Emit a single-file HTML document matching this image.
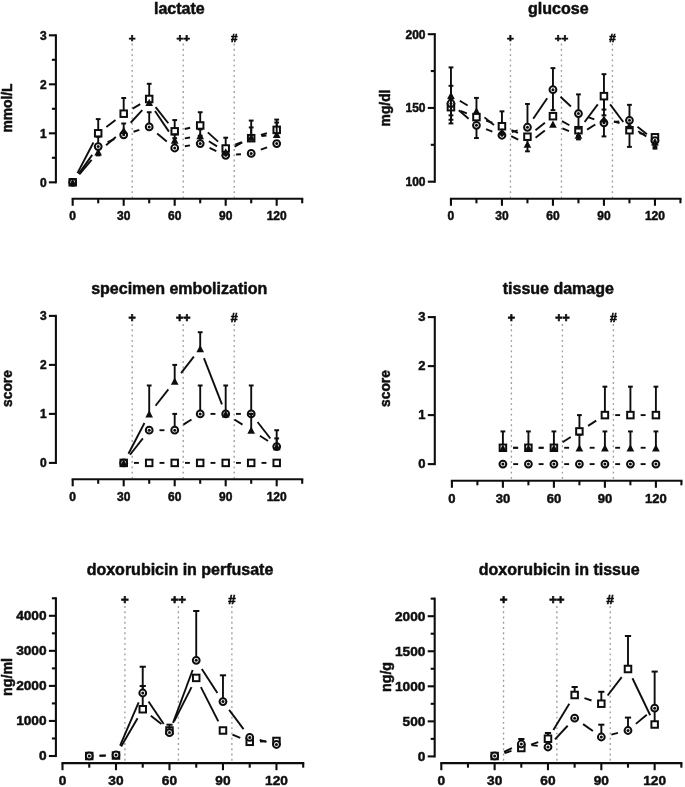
<!DOCTYPE html>
<html><head><meta charset="utf-8"><title>figure</title>
<style>html,body{margin:0;padding:0;background:#fff;}body{width:685px;height:787px;overflow:hidden;font-family:"Liberation Sans",sans-serif;}</style>
</head><body>
<svg width="685" height="787" viewBox="0 0 685 787" style="display:block">
<rect width="685" height="787" fill="#fff"/>
<defs><filter id="soft" x="-2%" y="-2%" width="104%" height="104%"><feGaussianBlur stdDeviation="0.38"/></filter></defs>
<g fill="#111" filter="url(#soft)">
<text x="179.3" y="13.6" font-size="16" text-anchor="middle" font-family="Liberation Sans, sans-serif" font-weight="bold" stroke="#111" stroke-width="0.5" stroke-linejoin="round">lactate</text>
<text transform="translate(12.2 108) rotate(-90)" font-size="13.8" text-anchor="middle" font-family="Liberation Sans, sans-serif" font-weight="bold" stroke="#111" stroke-width="0.5" stroke-linejoin="round">mmol/L</text>
<line x1="132.2" y1="43.6" x2="132.2" y2="197.7" stroke="#9c9c9c" stroke-width="1.35" stroke-dasharray="1.9 3.37"/>
<text x="132.2" y="41.9" font-size="11.6" text-anchor="middle" font-family="Liberation Sans, sans-serif" font-weight="bold" stroke="#111" stroke-width="0.7">+</text>
<line x1="183.2" y1="43.6" x2="183.2" y2="197.7" stroke="#9c9c9c" stroke-width="1.35" stroke-dasharray="1.9 3.37"/>
<text x="183.2" y="41.9" font-size="11.6" text-anchor="middle" font-family="Liberation Sans, sans-serif" font-weight="bold" stroke="#111" stroke-width="0.7">++</text>
<line x1="234.2" y1="43.6" x2="234.2" y2="197.7" stroke="#9c9c9c" stroke-width="1.35" stroke-dasharray="1.9 3.37"/>
<text x="234.2" y="41.9" font-size="11.6" text-anchor="middle" font-family="Liberation Sans, sans-serif" font-weight="bold" stroke="#111" stroke-width="0.7">#</text>
<line x1="55.9" y1="34.25" x2="55.9" y2="183.35" stroke="#111" stroke-width="2.1"/>
<line x1="48.9" y1="182.3" x2="55.9" y2="182.3" stroke="#111" stroke-width="2.1"/>
<text x="46.6" y="186.6" font-size="12" text-anchor="end" font-family="Liberation Sans, sans-serif" font-weight="bold" stroke="#111" stroke-width="0.5" stroke-linejoin="round">0</text>
<line x1="48.9" y1="133.3" x2="55.9" y2="133.3" stroke="#111" stroke-width="2.1"/>
<text x="46.6" y="137.6" font-size="12" text-anchor="end" font-family="Liberation Sans, sans-serif" font-weight="bold" stroke="#111" stroke-width="0.5" stroke-linejoin="round">1</text>
<line x1="48.9" y1="84.3" x2="55.9" y2="84.3" stroke="#111" stroke-width="2.1"/>
<text x="46.6" y="88.6" font-size="12" text-anchor="end" font-family="Liberation Sans, sans-serif" font-weight="bold" stroke="#111" stroke-width="0.5" stroke-linejoin="round">2</text>
<line x1="48.9" y1="35.3" x2="55.9" y2="35.3" stroke="#111" stroke-width="2.1"/>
<text x="46.6" y="39.6" font-size="12" text-anchor="end" font-family="Liberation Sans, sans-serif" font-weight="bold" stroke="#111" stroke-width="0.5" stroke-linejoin="round">3</text>
<line x1="51.9" y1="157.8" x2="55.9" y2="157.8" stroke="#111" stroke-width="2.1"/>
<line x1="51.9" y1="108.8" x2="55.9" y2="108.8" stroke="#111" stroke-width="2.1"/>
<line x1="51.9" y1="59.8" x2="55.9" y2="59.8" stroke="#111" stroke-width="2.1"/>
<line x1="71.65" y1="198.7" x2="303.25" y2="198.7" stroke="#111" stroke-width="2.1"/>
<line x1="72.7" y1="198.7" x2="72.7" y2="205.8" stroke="#111" stroke-width="2.1"/>
<text x="72.7" y="220.1" font-size="12" text-anchor="middle" font-family="Liberation Sans, sans-serif" font-weight="bold" stroke="#111" stroke-width="0.5" stroke-linejoin="round">0</text>
<line x1="123.7" y1="198.7" x2="123.7" y2="205.8" stroke="#111" stroke-width="2.1"/>
<text x="123.7" y="220.1" font-size="12" text-anchor="middle" font-family="Liberation Sans, sans-serif" font-weight="bold" stroke="#111" stroke-width="0.5" stroke-linejoin="round">30</text>
<line x1="174.7" y1="198.7" x2="174.7" y2="205.8" stroke="#111" stroke-width="2.1"/>
<text x="174.7" y="220.1" font-size="12" text-anchor="middle" font-family="Liberation Sans, sans-serif" font-weight="bold" stroke="#111" stroke-width="0.5" stroke-linejoin="round">60</text>
<line x1="225.7" y1="198.7" x2="225.7" y2="205.8" stroke="#111" stroke-width="2.1"/>
<text x="225.7" y="220.1" font-size="12" text-anchor="middle" font-family="Liberation Sans, sans-serif" font-weight="bold" stroke="#111" stroke-width="0.5" stroke-linejoin="round">90</text>
<line x1="276.7" y1="198.7" x2="276.7" y2="205.8" stroke="#111" stroke-width="2.1"/>
<text x="276.7" y="220.1" font-size="12" text-anchor="middle" font-family="Liberation Sans, sans-serif" font-weight="bold" stroke="#111" stroke-width="0.5" stroke-linejoin="round">120</text>
<line x1="98.2" y1="198.7" x2="98.2" y2="203.3" stroke="#111" stroke-width="2.1"/>
<line x1="149.2" y1="198.7" x2="149.2" y2="203.3" stroke="#111" stroke-width="2.1"/>
<line x1="200.2" y1="198.7" x2="200.2" y2="203.3" stroke="#111" stroke-width="2.1"/>
<line x1="251.2" y1="198.7" x2="251.2" y2="203.3" stroke="#111" stroke-width="2.1"/>
<line x1="302.2" y1="198.7" x2="302.2" y2="203.3" stroke="#111" stroke-width="2.1"/>
<line x1="98.2" y1="133.3" x2="98.2" y2="119.09" stroke="#111" stroke-width="1.9"/>
<line x1="95.8" y1="119.09" x2="100.6" y2="119.09" stroke="#111" stroke-width="2.0"/>
<line x1="123.7" y1="113.7" x2="123.7" y2="98.02" stroke="#111" stroke-width="1.9"/>
<line x1="121.3" y1="98.02" x2="126.1" y2="98.02" stroke="#111" stroke-width="2.0"/>
<line x1="149.2" y1="99" x2="149.2" y2="83.81" stroke="#111" stroke-width="1.9"/>
<line x1="146.8" y1="83.81" x2="151.6" y2="83.81" stroke="#111" stroke-width="2.0"/>
<line x1="174.7" y1="131.34" x2="174.7" y2="120.07" stroke="#111" stroke-width="1.9"/>
<line x1="172.3" y1="120.07" x2="177.1" y2="120.07" stroke="#111" stroke-width="2.0"/>
<line x1="200.2" y1="125.46" x2="200.2" y2="112.23" stroke="#111" stroke-width="1.9"/>
<line x1="197.8" y1="112.23" x2="202.6" y2="112.23" stroke="#111" stroke-width="2.0"/>
<line x1="225.7" y1="148.49" x2="225.7" y2="137.71" stroke="#111" stroke-width="1.9"/>
<line x1="223.3" y1="137.71" x2="228.1" y2="137.71" stroke="#111" stroke-width="2.0"/>
<line x1="251.2" y1="138.2" x2="251.2" y2="120.56" stroke="#111" stroke-width="1.9"/>
<line x1="248.8" y1="120.56" x2="253.6" y2="120.56" stroke="#111" stroke-width="2.0"/>
<line x1="276.7" y1="129.87" x2="276.7" y2="119.58" stroke="#111" stroke-width="1.9"/>
<line x1="274.3" y1="119.58" x2="279.1" y2="119.58" stroke="#111" stroke-width="2.0"/>
<line x1="77.45" y1="173.16" x2="93.45" y2="142.44" stroke="#111" stroke-width="1.9"/>
<line x1="106.37" y1="127.02" x2="115.53" y2="119.98" stroke="#111" stroke-width="1.9"/>
<line x1="132.62" y1="108.56" x2="140.28" y2="104.14" stroke="#111" stroke-width="1.9"/>
<line x1="155.58" y1="107.09" x2="168.32" y2="123.25" stroke="#111" stroke-width="1.9"/>
<line x1="184.74" y1="129.03" x2="190.16" y2="127.77" stroke="#111" stroke-width="1.9"/>
<line x1="207.84" y1="132.36" x2="218.06" y2="141.59" stroke="#111" stroke-width="1.9"/>
<line x1="235.25" y1="144.64" x2="241.65" y2="142.05" stroke="#111" stroke-width="1.9"/>
<line x1="260.99" y1="135" x2="266.91" y2="133.07" stroke="#111" stroke-width="1.9"/>
<rect x="69.45" y="179.05" width="6.5" height="6.5" fill="#fff" stroke="#111" stroke-width="2.0"/>
<rect x="94.95" y="130.05" width="6.5" height="6.5" fill="#fff" stroke="#111" stroke-width="2.0"/>
<rect x="120.45" y="110.45" width="6.5" height="6.5" fill="#fff" stroke="#111" stroke-width="2.0"/>
<rect x="145.95" y="95.75" width="6.5" height="6.5" fill="#fff" stroke="#111" stroke-width="2.0"/>
<rect x="171.45" y="128.09" width="6.5" height="6.5" fill="#fff" stroke="#111" stroke-width="2.0"/>
<rect x="196.95" y="122.21" width="6.5" height="6.5" fill="#fff" stroke="#111" stroke-width="2.0"/>
<rect x="222.45" y="145.24" width="6.5" height="6.5" fill="#fff" stroke="#111" stroke-width="2.0"/>
<rect x="247.95" y="134.95" width="6.5" height="6.5" fill="#fff" stroke="#111" stroke-width="2.0"/>
<rect x="273.45" y="126.62" width="6.5" height="6.5" fill="#fff" stroke="#111" stroke-width="2.0"/>
<line x1="98.2" y1="146.53" x2="98.2" y2="136.73" stroke="#111" stroke-width="1.9"/>
<line x1="95.8" y1="136.73" x2="100.6" y2="136.73" stroke="#111" stroke-width="2.0"/>
<line x1="123.7" y1="134.77" x2="123.7" y2="123.5" stroke="#111" stroke-width="1.9"/>
<line x1="121.3" y1="123.5" x2="126.1" y2="123.5" stroke="#111" stroke-width="2.0"/>
<line x1="149.2" y1="126.93" x2="149.2" y2="112.23" stroke="#111" stroke-width="1.9"/>
<line x1="146.8" y1="112.23" x2="151.6" y2="112.23" stroke="#111" stroke-width="2.0"/>
<line x1="174.7" y1="148" x2="174.7" y2="138.2" stroke="#111" stroke-width="1.9"/>
<line x1="172.3" y1="138.2" x2="177.1" y2="138.2" stroke="#111" stroke-width="2.0"/>
<line x1="200.2" y1="143.59" x2="200.2" y2="135.75" stroke="#111" stroke-width="1.9"/>
<line x1="197.8" y1="135.75" x2="202.6" y2="135.75" stroke="#111" stroke-width="2.0"/>
<line x1="78.68" y1="173.91" x2="92.22" y2="154.92" stroke="#111" stroke-width="1.9"/>
<line x1="107.55" y1="142.22" x2="114.35" y2="139.08" stroke="#111" stroke-width="1.9"/>
<line x1="133.55" y1="131.74" x2="139.35" y2="129.96" stroke="#111" stroke-width="1.9"/>
<line x1="157.14" y1="133.49" x2="166.76" y2="141.44" stroke="#111" stroke-width="1.9"/>
<line x1="184.85" y1="146.24" x2="190.05" y2="145.35" stroke="#111" stroke-width="1.9"/>
<line x1="209.55" y1="147.9" x2="216.35" y2="151.04" stroke="#111" stroke-width="1.9"/>
<line x1="235.97" y1="154.56" x2="240.93" y2="154.18" stroke="#111" stroke-width="1.9"/>
<line x1="260.81" y1="149.7" x2="267.09" y2="147.28" stroke="#111" stroke-width="1.9"/>
<circle cx="72.7" cy="182.3" r="3.4" fill="#fff" stroke="#111" stroke-width="2.0"/>
<circle cx="72.7" cy="182.3" r="1.5" fill="#111"/>
<circle cx="98.2" cy="146.53" r="3.4" fill="#fff" stroke="#111" stroke-width="2.0"/>
<circle cx="98.2" cy="146.53" r="1.5" fill="#111"/>
<circle cx="123.7" cy="134.77" r="3.4" fill="#fff" stroke="#111" stroke-width="2.0"/>
<circle cx="123.7" cy="134.77" r="1.5" fill="#111"/>
<circle cx="149.2" cy="126.93" r="3.4" fill="#fff" stroke="#111" stroke-width="2.0"/>
<circle cx="149.2" cy="126.93" r="1.5" fill="#111"/>
<circle cx="174.7" cy="148" r="3.4" fill="#fff" stroke="#111" stroke-width="2.0"/>
<circle cx="174.7" cy="148" r="1.5" fill="#111"/>
<circle cx="200.2" cy="143.59" r="3.4" fill="#fff" stroke="#111" stroke-width="2.0"/>
<circle cx="200.2" cy="143.59" r="1.5" fill="#111"/>
<circle cx="225.7" cy="155.35" r="3.4" fill="#fff" stroke="#111" stroke-width="2.0"/>
<circle cx="225.7" cy="155.35" r="1.5" fill="#111"/>
<circle cx="251.2" cy="153.39" r="3.4" fill="#fff" stroke="#111" stroke-width="2.0"/>
<circle cx="251.2" cy="153.39" r="1.5" fill="#111"/>
<circle cx="276.7" cy="143.59" r="3.4" fill="#fff" stroke="#111" stroke-width="2.0"/>
<circle cx="276.7" cy="143.59" r="1.5" fill="#111"/>
<line x1="98.2" y1="151.92" x2="98.2" y2="155.35" stroke="#111" stroke-width="1.9"/>
<line x1="95.8" y1="155.35" x2="100.6" y2="155.35" stroke="#111" stroke-width="2.0"/>
<line x1="174.7" y1="140.16" x2="174.7" y2="134.28" stroke="#111" stroke-width="1.9"/>
<line x1="172.3" y1="134.28" x2="177.1" y2="134.28" stroke="#111" stroke-width="2.0"/>
<line x1="200.2" y1="135.75" x2="200.2" y2="129.38" stroke="#111" stroke-width="1.9"/>
<line x1="197.8" y1="129.38" x2="202.6" y2="129.38" stroke="#111" stroke-width="2.0"/>
<line x1="251.2" y1="137.22" x2="251.2" y2="127.42" stroke="#111" stroke-width="1.9"/>
<line x1="248.8" y1="127.42" x2="253.6" y2="127.42" stroke="#111" stroke-width="2.0"/>
<line x1="276.7" y1="134.28" x2="276.7" y2="122.52" stroke="#111" stroke-width="1.9"/>
<line x1="274.3" y1="122.52" x2="279.1" y2="122.52" stroke="#111" stroke-width="2.0"/>
<line x1="79.32" y1="174.41" x2="91.58" y2="159.81" stroke="#111" stroke-width="1.9"/>
<line x1="106.07" y1="145.27" x2="115.83" y2="137.01" stroke="#111" stroke-width="1.9"/>
<line x1="130.64" y1="122.75" x2="142.26" y2="110.04" stroke="#111" stroke-width="1.9"/>
<line x1="154.97" y1="110.96" x2="168.93" y2="131.63" stroke="#111" stroke-width="1.9"/>
<line x1="184.85" y1="138.4" x2="190.05" y2="137.51" stroke="#111" stroke-width="1.9"/>
<line x1="208.9" y1="141.27" x2="217" y2="146.4" stroke="#111" stroke-width="1.9"/>
<line x1="234.62" y1="146.78" x2="242.28" y2="142.36" stroke="#111" stroke-width="1.9"/>
<line x1="261.43" y1="136.04" x2="266.47" y2="135.46" stroke="#111" stroke-width="1.9"/>
<path d="M72.7 178.7L76.55 185.9L68.85 185.9Z" fill="#111"/>
<path d="M98.2 148.32L102.05 155.52L94.35 155.52Z" fill="#111"/>
<path d="M123.7 126.76L127.55 133.96L119.85 133.96Z" fill="#111"/>
<path d="M149.2 98.83L153.05 106.03L145.35 106.03Z" fill="#111"/>
<path d="M174.7 136.56L178.55 143.76L170.85 143.76Z" fill="#111"/>
<path d="M200.2 132.15L204.05 139.35L196.35 139.35Z" fill="#111"/>
<path d="M225.7 148.32L229.55 155.52L221.85 155.52Z" fill="#111"/>
<path d="M251.2 133.62L255.05 140.82L247.35 140.82Z" fill="#111"/>
<path d="M276.7 130.68L280.55 137.88L272.85 137.88Z" fill="#111"/>
<text x="558.3" y="13.6" font-size="16" text-anchor="middle" font-family="Liberation Sans, sans-serif" font-weight="bold" stroke="#111" stroke-width="0.5" stroke-linejoin="round">glucose</text>
<text transform="translate(390.4 108) rotate(-90)" font-size="13.8" text-anchor="middle" font-family="Liberation Sans, sans-serif" font-weight="bold" stroke="#111" stroke-width="0.5" stroke-linejoin="round">mg/dl</text>
<line x1="510.45" y1="43.6" x2="510.45" y2="197.7" stroke="#9c9c9c" stroke-width="1.35" stroke-dasharray="1.9 3.37"/>
<text x="510.45" y="41.9" font-size="11.6" text-anchor="middle" font-family="Liberation Sans, sans-serif" font-weight="bold" stroke="#111" stroke-width="0.7">+</text>
<line x1="561.45" y1="43.6" x2="561.45" y2="197.7" stroke="#9c9c9c" stroke-width="1.35" stroke-dasharray="1.9 3.37"/>
<text x="561.45" y="41.9" font-size="11.6" text-anchor="middle" font-family="Liberation Sans, sans-serif" font-weight="bold" stroke="#111" stroke-width="0.7">++</text>
<line x1="612.45" y1="43.6" x2="612.45" y2="197.7" stroke="#9c9c9c" stroke-width="1.35" stroke-dasharray="1.9 3.37"/>
<text x="612.45" y="41.9" font-size="11.6" text-anchor="middle" font-family="Liberation Sans, sans-serif" font-weight="bold" stroke="#111" stroke-width="0.7">#</text>
<line x1="434.8" y1="33.15" x2="434.8" y2="182.75" stroke="#111" stroke-width="2.1"/>
<line x1="427.8" y1="181.7" x2="434.8" y2="181.7" stroke="#111" stroke-width="2.1"/>
<text x="425.5" y="186" font-size="12" text-anchor="end" font-family="Liberation Sans, sans-serif" font-weight="bold" stroke="#111" stroke-width="0.5" stroke-linejoin="round">100</text>
<line x1="427.8" y1="107.95" x2="434.8" y2="107.95" stroke="#111" stroke-width="2.1"/>
<text x="425.5" y="112.25" font-size="12" text-anchor="end" font-family="Liberation Sans, sans-serif" font-weight="bold" stroke="#111" stroke-width="0.5" stroke-linejoin="round">150</text>
<line x1="427.8" y1="34.2" x2="434.8" y2="34.2" stroke="#111" stroke-width="2.1"/>
<text x="425.5" y="38.5" font-size="12" text-anchor="end" font-family="Liberation Sans, sans-serif" font-weight="bold" stroke="#111" stroke-width="0.5" stroke-linejoin="round">200</text>
<line x1="430.8" y1="144.82" x2="434.8" y2="144.82" stroke="#111" stroke-width="2.1"/>
<line x1="430.8" y1="71.07" x2="434.8" y2="71.07" stroke="#111" stroke-width="2.1"/>
<line x1="449.9" y1="198.7" x2="681.5" y2="198.7" stroke="#111" stroke-width="2.1"/>
<line x1="450.95" y1="198.7" x2="450.95" y2="205.8" stroke="#111" stroke-width="2.1"/>
<text x="450.95" y="219.9" font-size="12" text-anchor="middle" font-family="Liberation Sans, sans-serif" font-weight="bold" stroke="#111" stroke-width="0.5" stroke-linejoin="round">0</text>
<line x1="501.95" y1="198.7" x2="501.95" y2="205.8" stroke="#111" stroke-width="2.1"/>
<text x="501.95" y="219.9" font-size="12" text-anchor="middle" font-family="Liberation Sans, sans-serif" font-weight="bold" stroke="#111" stroke-width="0.5" stroke-linejoin="round">30</text>
<line x1="552.95" y1="198.7" x2="552.95" y2="205.8" stroke="#111" stroke-width="2.1"/>
<text x="552.95" y="219.9" font-size="12" text-anchor="middle" font-family="Liberation Sans, sans-serif" font-weight="bold" stroke="#111" stroke-width="0.5" stroke-linejoin="round">60</text>
<line x1="603.95" y1="198.7" x2="603.95" y2="205.8" stroke="#111" stroke-width="2.1"/>
<text x="603.95" y="219.9" font-size="12" text-anchor="middle" font-family="Liberation Sans, sans-serif" font-weight="bold" stroke="#111" stroke-width="0.5" stroke-linejoin="round">90</text>
<line x1="654.95" y1="198.7" x2="654.95" y2="205.8" stroke="#111" stroke-width="2.1"/>
<text x="654.95" y="219.9" font-size="12" text-anchor="middle" font-family="Liberation Sans, sans-serif" font-weight="bold" stroke="#111" stroke-width="0.5" stroke-linejoin="round">120</text>
<line x1="476.45" y1="198.7" x2="476.45" y2="203.3" stroke="#111" stroke-width="2.1"/>
<line x1="527.45" y1="198.7" x2="527.45" y2="203.3" stroke="#111" stroke-width="2.1"/>
<line x1="578.45" y1="198.7" x2="578.45" y2="203.3" stroke="#111" stroke-width="2.1"/>
<line x1="629.45" y1="198.7" x2="629.45" y2="203.3" stroke="#111" stroke-width="2.1"/>
<line x1="680.45" y1="198.7" x2="680.45" y2="203.3" stroke="#111" stroke-width="2.1"/>
<line x1="450.95" y1="107.21" x2="450.95" y2="115.32" stroke="#111" stroke-width="1.9"/>
<line x1="448.55" y1="115.32" x2="453.35" y2="115.32" stroke="#111" stroke-width="2.0"/>
<line x1="450.95" y1="107.21" x2="450.95" y2="99.1" stroke="#111" stroke-width="1.9"/>
<line x1="448.55" y1="99.1" x2="453.35" y2="99.1" stroke="#111" stroke-width="2.0"/>
<line x1="476.45" y1="117.09" x2="476.45" y2="97.92" stroke="#111" stroke-width="1.9"/>
<line x1="474.05" y1="97.92" x2="478.85" y2="97.92" stroke="#111" stroke-width="2.0"/>
<line x1="501.95" y1="126.24" x2="501.95" y2="111.34" stroke="#111" stroke-width="1.9"/>
<line x1="499.55" y1="111.34" x2="504.35" y2="111.34" stroke="#111" stroke-width="2.0"/>
<line x1="527.45" y1="136.71" x2="527.45" y2="145.71" stroke="#111" stroke-width="1.9"/>
<line x1="525.05" y1="145.71" x2="529.85" y2="145.71" stroke="#111" stroke-width="2.0"/>
<line x1="578.45" y1="130.22" x2="578.45" y2="135.97" stroke="#111" stroke-width="1.9"/>
<line x1="576.05" y1="135.97" x2="580.85" y2="135.97" stroke="#111" stroke-width="2.0"/>
<line x1="603.95" y1="96.15" x2="603.95" y2="74.17" stroke="#111" stroke-width="1.9"/>
<line x1="601.55" y1="74.17" x2="606.35" y2="74.17" stroke="#111" stroke-width="2.0"/>
<line x1="603.95" y1="96.15" x2="603.95" y2="109.57" stroke="#111" stroke-width="1.9"/>
<line x1="601.55" y1="109.57" x2="606.35" y2="109.57" stroke="#111" stroke-width="2.0"/>
<line x1="603.95" y1="96.15" x2="603.95" y2="115.32" stroke="#111" stroke-width="1.9"/>
<line x1="601.55" y1="115.32" x2="606.35" y2="115.32" stroke="#111" stroke-width="2.0"/>
<line x1="629.45" y1="130.22" x2="629.45" y2="146.89" stroke="#111" stroke-width="1.9"/>
<line x1="627.05" y1="146.89" x2="631.85" y2="146.89" stroke="#111" stroke-width="2.0"/>
<line x1="654.95" y1="137.3" x2="654.95" y2="144.82" stroke="#111" stroke-width="1.9"/>
<line x1="652.55" y1="144.82" x2="657.35" y2="144.82" stroke="#111" stroke-width="2.0"/>
<line x1="460.55" y1="110.93" x2="466.85" y2="113.37" stroke="#111" stroke-width="1.9"/>
<line x1="486.15" y1="120.57" x2="492.25" y2="122.76" stroke="#111" stroke-width="1.9"/>
<line x1="511.48" y1="130.15" x2="517.92" y2="132.8" stroke="#111" stroke-width="1.9"/>
<line x1="535.48" y1="130.26" x2="544.92" y2="122.66" stroke="#111" stroke-width="1.9"/>
<line x1="561.98" y1="121.17" x2="569.42" y2="125.26" stroke="#111" stroke-width="1.9"/>
<line x1="584.62" y1="121.98" x2="597.78" y2="104.4" stroke="#111" stroke-width="1.9"/>
<line x1="610.12" y1="104.4" x2="623.28" y2="121.98" stroke="#111" stroke-width="1.9"/>
<line x1="639.37" y1="132.98" x2="645.03" y2="134.55" stroke="#111" stroke-width="1.9"/>
<rect x="447.7" y="103.96" width="6.5" height="6.5" fill="#fff" stroke="#111" stroke-width="2.0"/>
<rect x="473.2" y="113.84" width="6.5" height="6.5" fill="#fff" stroke="#111" stroke-width="2.0"/>
<rect x="498.7" y="122.99" width="6.5" height="6.5" fill="#fff" stroke="#111" stroke-width="2.0"/>
<rect x="524.2" y="133.46" width="6.5" height="6.5" fill="#fff" stroke="#111" stroke-width="2.0"/>
<rect x="549.7" y="112.96" width="6.5" height="6.5" fill="#fff" stroke="#111" stroke-width="2.0"/>
<rect x="575.2" y="126.97" width="6.5" height="6.5" fill="#fff" stroke="#111" stroke-width="2.0"/>
<rect x="600.7" y="92.9" width="6.5" height="6.5" fill="#fff" stroke="#111" stroke-width="2.0"/>
<rect x="626.2" y="126.97" width="6.5" height="6.5" fill="#fff" stroke="#111" stroke-width="2.0"/>
<rect x="651.7" y="134.05" width="6.5" height="6.5" fill="#fff" stroke="#111" stroke-width="2.0"/>
<line x1="450.95" y1="103.52" x2="450.95" y2="119.75" stroke="#111" stroke-width="1.9"/>
<line x1="448.55" y1="119.75" x2="453.35" y2="119.75" stroke="#111" stroke-width="2.0"/>
<line x1="450.95" y1="103.52" x2="450.95" y2="85.82" stroke="#111" stroke-width="1.9"/>
<line x1="448.55" y1="85.82" x2="453.35" y2="85.82" stroke="#111" stroke-width="2.0"/>
<line x1="476.45" y1="125.36" x2="476.45" y2="138.04" stroke="#111" stroke-width="1.9"/>
<line x1="474.05" y1="138.04" x2="478.85" y2="138.04" stroke="#111" stroke-width="2.0"/>
<line x1="527.45" y1="127.27" x2="527.45" y2="103.97" stroke="#111" stroke-width="1.9"/>
<line x1="525.05" y1="103.97" x2="529.85" y2="103.97" stroke="#111" stroke-width="2.0"/>
<line x1="552.95" y1="89.66" x2="552.95" y2="110.16" stroke="#111" stroke-width="1.9"/>
<line x1="550.55" y1="110.16" x2="555.35" y2="110.16" stroke="#111" stroke-width="2.0"/>
<line x1="552.95" y1="89.66" x2="552.95" y2="68.12" stroke="#111" stroke-width="1.9"/>
<line x1="550.55" y1="68.12" x2="555.35" y2="68.12" stroke="#111" stroke-width="2.0"/>
<line x1="578.45" y1="113.56" x2="578.45" y2="94.38" stroke="#111" stroke-width="1.9"/>
<line x1="576.05" y1="94.38" x2="580.85" y2="94.38" stroke="#111" stroke-width="2.0"/>
<line x1="578.45" y1="113.56" x2="578.45" y2="128.6" stroke="#111" stroke-width="1.9"/>
<line x1="576.05" y1="128.6" x2="580.85" y2="128.6" stroke="#111" stroke-width="2.0"/>
<line x1="603.95" y1="122.85" x2="603.95" y2="136.42" stroke="#111" stroke-width="1.9"/>
<line x1="601.55" y1="136.42" x2="606.35" y2="136.42" stroke="#111" stroke-width="2.0"/>
<line x1="629.45" y1="120.34" x2="629.45" y2="104.85" stroke="#111" stroke-width="1.9"/>
<line x1="627.05" y1="104.85" x2="631.85" y2="104.85" stroke="#111" stroke-width="2.0"/>
<line x1="654.95" y1="140.69" x2="654.95" y2="148.66" stroke="#111" stroke-width="1.9"/>
<line x1="652.55" y1="148.66" x2="657.35" y2="148.66" stroke="#111" stroke-width="2.0"/>
<line x1="458.77" y1="110.22" x2="468.63" y2="118.66" stroke="#111" stroke-width="1.9"/>
<line x1="486.05" y1="129.08" x2="492.35" y2="131.52" stroke="#111" stroke-width="1.9"/>
<line x1="511.78" y1="132.17" x2="517.62" y2="130.34" stroke="#111" stroke-width="1.9"/>
<line x1="533.23" y1="118.75" x2="547.17" y2="98.19" stroke="#111" stroke-width="1.9"/>
<line x1="560.47" y1="96.7" x2="570.93" y2="106.51" stroke="#111" stroke-width="1.9"/>
<line x1="588.13" y1="117.08" x2="594.27" y2="119.32" stroke="#111" stroke-width="1.9"/>
<line x1="614.2" y1="121.84" x2="619.2" y2="121.35" stroke="#111" stroke-width="1.9"/>
<line x1="637.5" y1="126.77" x2="646.9" y2="134.27" stroke="#111" stroke-width="1.9"/>
<circle cx="450.95" cy="103.52" r="3.4" fill="#fff" stroke="#111" stroke-width="2.0"/>
<circle cx="450.95" cy="103.52" r="1.5" fill="#111"/>
<circle cx="476.45" cy="125.36" r="3.4" fill="#fff" stroke="#111" stroke-width="2.0"/>
<circle cx="476.45" cy="125.36" r="1.5" fill="#111"/>
<circle cx="501.95" cy="135.24" r="3.4" fill="#fff" stroke="#111" stroke-width="2.0"/>
<circle cx="501.95" cy="135.24" r="1.5" fill="#111"/>
<circle cx="527.45" cy="127.27" r="3.4" fill="#fff" stroke="#111" stroke-width="2.0"/>
<circle cx="527.45" cy="127.27" r="1.5" fill="#111"/>
<circle cx="552.95" cy="89.66" r="3.4" fill="#fff" stroke="#111" stroke-width="2.0"/>
<circle cx="552.95" cy="89.66" r="1.5" fill="#111"/>
<circle cx="578.45" cy="113.56" r="3.4" fill="#fff" stroke="#111" stroke-width="2.0"/>
<circle cx="578.45" cy="113.56" r="1.5" fill="#111"/>
<circle cx="603.95" cy="122.85" r="3.4" fill="#fff" stroke="#111" stroke-width="2.0"/>
<circle cx="603.95" cy="122.85" r="1.5" fill="#111"/>
<circle cx="629.45" cy="120.34" r="3.4" fill="#fff" stroke="#111" stroke-width="2.0"/>
<circle cx="629.45" cy="120.34" r="1.5" fill="#111"/>
<circle cx="654.95" cy="140.69" r="3.4" fill="#fff" stroke="#111" stroke-width="2.0"/>
<circle cx="654.95" cy="140.69" r="1.5" fill="#111"/>
<line x1="450.95" y1="95.41" x2="450.95" y2="123.44" stroke="#111" stroke-width="1.9"/>
<line x1="448.55" y1="123.44" x2="453.35" y2="123.44" stroke="#111" stroke-width="2.0"/>
<line x1="450.95" y1="95.41" x2="450.95" y2="67.39" stroke="#111" stroke-width="1.9"/>
<line x1="448.55" y1="67.39" x2="453.35" y2="67.39" stroke="#111" stroke-width="2.0"/>
<line x1="527.45" y1="144.23" x2="527.45" y2="151.31" stroke="#111" stroke-width="1.9"/>
<line x1="525.05" y1="151.31" x2="529.85" y2="151.31" stroke="#111" stroke-width="2.0"/>
<line x1="578.45" y1="135.24" x2="578.45" y2="139.37" stroke="#111" stroke-width="1.9"/>
<line x1="576.05" y1="139.37" x2="580.85" y2="139.37" stroke="#111" stroke-width="2.0"/>
<line x1="654.95" y1="141.88" x2="654.95" y2="147.04" stroke="#111" stroke-width="1.9"/>
<line x1="652.55" y1="147.04" x2="657.35" y2="147.04" stroke="#111" stroke-width="2.0"/>
<line x1="459.75" y1="100.76" x2="467.65" y2="105.55" stroke="#111" stroke-width="1.9"/>
<line x1="484.45" y1="117.38" x2="493.95" y2="125.07" stroke="#111" stroke-width="1.9"/>
<line x1="511.17" y1="136.14" x2="518.23" y2="139.65" stroke="#111" stroke-width="1.9"/>
<line x1="535.55" y1="137.87" x2="544.85" y2="130.54" stroke="#111" stroke-width="1.9"/>
<line x1="562.4" y1="128.27" x2="569" y2="131.14" stroke="#111" stroke-width="1.9"/>
<line x1="587.12" y1="129.67" x2="595.28" y2="124.43" stroke="#111" stroke-width="1.9"/>
<line x1="613.9" y1="121.51" x2="619.5" y2="123" stroke="#111" stroke-width="1.9"/>
<line x1="638.14" y1="131.18" x2="646.26" y2="136.35" stroke="#111" stroke-width="1.9"/>
<path d="M450.95 91.81L454.8 99.01L447.1 99.01Z" fill="#111"/>
<path d="M476.45 107.3L480.3 114.5L472.6 114.5Z" fill="#111"/>
<path d="M501.95 127.95L505.8 135.15L498.1 135.15Z" fill="#111"/>
<path d="M527.45 140.63L531.3 147.83L523.6 147.83Z" fill="#111"/>
<path d="M552.95 120.57L556.8 127.77L549.1 127.77Z" fill="#111"/>
<path d="M578.45 131.64L582.3 138.84L574.6 138.84Z" fill="#111"/>
<path d="M603.95 115.27L607.8 122.46L600.1 122.46Z" fill="#111"/>
<path d="M629.45 122.05L633.3 129.25L625.6 129.25Z" fill="#111"/>
<path d="M654.95 138.28L658.8 145.47L651.1 145.47Z" fill="#111"/>
<text x="179.2" y="293.6" font-size="16" text-anchor="middle" font-family="Liberation Sans, sans-serif" font-weight="bold" stroke="#111" stroke-width="0.5" stroke-linejoin="round">specimen embolization</text>
<text transform="translate(12.2 388.5) rotate(-90)" font-size="13.8" text-anchor="middle" font-family="Liberation Sans, sans-serif" font-weight="bold" stroke="#111" stroke-width="0.5" stroke-linejoin="round">score</text>
<line x1="132.2" y1="324.1" x2="132.2" y2="478.2" stroke="#9c9c9c" stroke-width="1.35" stroke-dasharray="1.9 3.37"/>
<text x="132.2" y="322.4" font-size="12.4" text-anchor="middle" font-family="Liberation Sans, sans-serif" font-weight="bold" stroke="#111" stroke-width="0.7">+</text>
<line x1="183.2" y1="324.1" x2="183.2" y2="478.2" stroke="#9c9c9c" stroke-width="1.35" stroke-dasharray="1.9 3.37"/>
<text x="183.2" y="322.4" font-size="12.4" text-anchor="middle" font-family="Liberation Sans, sans-serif" font-weight="bold" stroke="#111" stroke-width="0.7">++</text>
<line x1="234.2" y1="324.1" x2="234.2" y2="478.2" stroke="#9c9c9c" stroke-width="1.35" stroke-dasharray="1.9 3.37"/>
<text x="234.2" y="322.4" font-size="12.4" text-anchor="middle" font-family="Liberation Sans, sans-serif" font-weight="bold" stroke="#111" stroke-width="0.7">#</text>
<line x1="55.9" y1="314.85" x2="55.9" y2="463.95" stroke="#111" stroke-width="2.1"/>
<line x1="48.9" y1="462.9" x2="55.9" y2="462.9" stroke="#111" stroke-width="2.1"/>
<text x="46.6" y="467.2" font-size="12" text-anchor="end" font-family="Liberation Sans, sans-serif" font-weight="bold" stroke="#111" stroke-width="0.5" stroke-linejoin="round">0</text>
<line x1="48.9" y1="413.9" x2="55.9" y2="413.9" stroke="#111" stroke-width="2.1"/>
<text x="46.6" y="418.2" font-size="12" text-anchor="end" font-family="Liberation Sans, sans-serif" font-weight="bold" stroke="#111" stroke-width="0.5" stroke-linejoin="round">1</text>
<line x1="48.9" y1="364.9" x2="55.9" y2="364.9" stroke="#111" stroke-width="2.1"/>
<text x="46.6" y="369.2" font-size="12" text-anchor="end" font-family="Liberation Sans, sans-serif" font-weight="bold" stroke="#111" stroke-width="0.5" stroke-linejoin="round">2</text>
<line x1="48.9" y1="315.9" x2="55.9" y2="315.9" stroke="#111" stroke-width="2.1"/>
<text x="46.6" y="320.2" font-size="12" text-anchor="end" font-family="Liberation Sans, sans-serif" font-weight="bold" stroke="#111" stroke-width="0.5" stroke-linejoin="round">3</text>
<line x1="71.65" y1="479.2" x2="303.25" y2="479.2" stroke="#111" stroke-width="2.1"/>
<line x1="72.7" y1="479.2" x2="72.7" y2="486.3" stroke="#111" stroke-width="2.1"/>
<text x="72.7" y="501.1" font-size="12" text-anchor="middle" font-family="Liberation Sans, sans-serif" font-weight="bold" stroke="#111" stroke-width="0.5" stroke-linejoin="round">0</text>
<line x1="123.7" y1="479.2" x2="123.7" y2="486.3" stroke="#111" stroke-width="2.1"/>
<text x="123.7" y="501.1" font-size="12" text-anchor="middle" font-family="Liberation Sans, sans-serif" font-weight="bold" stroke="#111" stroke-width="0.5" stroke-linejoin="round">30</text>
<line x1="174.7" y1="479.2" x2="174.7" y2="486.3" stroke="#111" stroke-width="2.1"/>
<text x="174.7" y="501.1" font-size="12" text-anchor="middle" font-family="Liberation Sans, sans-serif" font-weight="bold" stroke="#111" stroke-width="0.5" stroke-linejoin="round">60</text>
<line x1="225.7" y1="479.2" x2="225.7" y2="486.3" stroke="#111" stroke-width="2.1"/>
<text x="225.7" y="501.1" font-size="12" text-anchor="middle" font-family="Liberation Sans, sans-serif" font-weight="bold" stroke="#111" stroke-width="0.5" stroke-linejoin="round">90</text>
<line x1="276.7" y1="479.2" x2="276.7" y2="486.3" stroke="#111" stroke-width="2.1"/>
<text x="276.7" y="501.1" font-size="12" text-anchor="middle" font-family="Liberation Sans, sans-serif" font-weight="bold" stroke="#111" stroke-width="0.5" stroke-linejoin="round">120</text>
<line x1="98.2" y1="479.2" x2="98.2" y2="483.8" stroke="#111" stroke-width="2.1"/>
<line x1="149.2" y1="479.2" x2="149.2" y2="483.8" stroke="#111" stroke-width="2.1"/>
<line x1="200.2" y1="479.2" x2="200.2" y2="483.8" stroke="#111" stroke-width="2.1"/>
<line x1="251.2" y1="479.2" x2="251.2" y2="483.8" stroke="#111" stroke-width="2.1"/>
<line x1="302.2" y1="479.2" x2="302.2" y2="483.8" stroke="#111" stroke-width="2.1"/>
<line x1="134" y1="462.9" x2="138.9" y2="462.9" stroke="#111" stroke-width="1.9"/>
<line x1="159.5" y1="462.9" x2="164.4" y2="462.9" stroke="#111" stroke-width="1.9"/>
<line x1="185" y1="462.9" x2="189.9" y2="462.9" stroke="#111" stroke-width="1.9"/>
<line x1="210.5" y1="462.9" x2="215.4" y2="462.9" stroke="#111" stroke-width="1.9"/>
<line x1="236" y1="462.9" x2="240.9" y2="462.9" stroke="#111" stroke-width="1.9"/>
<line x1="261.5" y1="462.9" x2="266.4" y2="462.9" stroke="#111" stroke-width="1.9"/>
<rect x="120.45" y="459.65" width="6.5" height="6.5" fill="#fff" stroke="#111" stroke-width="2.0"/>
<rect x="145.95" y="459.65" width="6.5" height="6.5" fill="#fff" stroke="#111" stroke-width="2.0"/>
<rect x="171.45" y="459.65" width="6.5" height="6.5" fill="#fff" stroke="#111" stroke-width="2.0"/>
<rect x="196.95" y="459.65" width="6.5" height="6.5" fill="#fff" stroke="#111" stroke-width="2.0"/>
<rect x="222.45" y="459.65" width="6.5" height="6.5" fill="#fff" stroke="#111" stroke-width="2.0"/>
<rect x="247.95" y="459.65" width="6.5" height="6.5" fill="#fff" stroke="#111" stroke-width="2.0"/>
<rect x="273.45" y="459.65" width="6.5" height="6.5" fill="#fff" stroke="#111" stroke-width="2.0"/>
<line x1="174.7" y1="430.22" x2="174.7" y2="413.9" stroke="#111" stroke-width="1.9"/>
<line x1="172.3" y1="413.9" x2="177.1" y2="413.9" stroke="#111" stroke-width="2.0"/>
<line x1="200.2" y1="413.9" x2="200.2" y2="385.48" stroke="#111" stroke-width="1.9"/>
<line x1="197.8" y1="385.48" x2="202.6" y2="385.48" stroke="#111" stroke-width="2.0"/>
<line x1="225.7" y1="413.9" x2="225.7" y2="385.48" stroke="#111" stroke-width="1.9"/>
<line x1="223.3" y1="385.48" x2="228.1" y2="385.48" stroke="#111" stroke-width="2.0"/>
<line x1="251.2" y1="413.9" x2="251.2" y2="385.48" stroke="#111" stroke-width="1.9"/>
<line x1="248.8" y1="385.48" x2="253.6" y2="385.48" stroke="#111" stroke-width="2.0"/>
<line x1="276.7" y1="446.58" x2="276.7" y2="430.22" stroke="#111" stroke-width="1.9"/>
<line x1="274.3" y1="430.22" x2="279.1" y2="430.22" stroke="#111" stroke-width="2.0"/>
<line x1="130.04" y1="454.78" x2="142.86" y2="438.34" stroke="#111" stroke-width="1.9"/>
<line x1="159.5" y1="430.22" x2="164.4" y2="430.22" stroke="#111" stroke-width="1.9"/>
<line x1="183.38" y1="424.67" x2="191.52" y2="419.45" stroke="#111" stroke-width="1.9"/>
<line x1="210.5" y1="413.9" x2="215.4" y2="413.9" stroke="#111" stroke-width="1.9"/>
<line x1="236" y1="413.9" x2="240.9" y2="413.9" stroke="#111" stroke-width="1.9"/>
<line x1="257.54" y1="422.02" x2="270.36" y2="438.46" stroke="#111" stroke-width="1.9"/>
<circle cx="123.7" cy="462.9" r="3.4" fill="#fff" stroke="#111" stroke-width="2.0"/>
<circle cx="123.7" cy="462.9" r="1.5" fill="#111"/>
<circle cx="149.2" cy="430.22" r="3.4" fill="#fff" stroke="#111" stroke-width="2.0"/>
<circle cx="149.2" cy="430.22" r="1.5" fill="#111"/>
<circle cx="174.7" cy="430.22" r="3.4" fill="#fff" stroke="#111" stroke-width="2.0"/>
<circle cx="174.7" cy="430.22" r="1.5" fill="#111"/>
<circle cx="200.2" cy="413.9" r="3.4" fill="#fff" stroke="#111" stroke-width="2.0"/>
<circle cx="200.2" cy="413.9" r="1.5" fill="#111"/>
<circle cx="225.7" cy="413.9" r="3.4" fill="#fff" stroke="#111" stroke-width="2.0"/>
<circle cx="225.7" cy="413.9" r="1.5" fill="#111"/>
<circle cx="251.2" cy="413.9" r="3.4" fill="#fff" stroke="#111" stroke-width="2.0"/>
<circle cx="251.2" cy="413.9" r="1.5" fill="#111"/>
<circle cx="276.7" cy="446.58" r="3.4" fill="#fff" stroke="#111" stroke-width="2.0"/>
<circle cx="276.7" cy="446.58" r="1.5" fill="#111"/>
<line x1="149.2" y1="413.9" x2="149.2" y2="385.48" stroke="#111" stroke-width="1.9"/>
<line x1="146.8" y1="385.48" x2="151.6" y2="385.48" stroke="#111" stroke-width="2.0"/>
<line x1="174.7" y1="381.22" x2="174.7" y2="364.9" stroke="#111" stroke-width="1.9"/>
<line x1="172.3" y1="364.9" x2="177.1" y2="364.9" stroke="#111" stroke-width="2.0"/>
<line x1="200.2" y1="348.58" x2="200.2" y2="332.22" stroke="#111" stroke-width="1.9"/>
<line x1="197.8" y1="332.22" x2="202.6" y2="332.22" stroke="#111" stroke-width="2.0"/>
<line x1="251.2" y1="430.22" x2="251.2" y2="413.9" stroke="#111" stroke-width="1.9"/>
<line x1="248.8" y1="413.9" x2="253.6" y2="413.9" stroke="#111" stroke-width="2.0"/>
<line x1="276.7" y1="446.58" x2="276.7" y2="438.4" stroke="#111" stroke-width="1.9"/>
<line x1="274.3" y1="438.4" x2="279.1" y2="438.4" stroke="#111" stroke-width="2.0"/>
<line x1="128.45" y1="453.76" x2="144.45" y2="423.04" stroke="#111" stroke-width="1.9"/>
<line x1="155.54" y1="405.78" x2="168.36" y2="389.34" stroke="#111" stroke-width="1.9"/>
<line x1="181.04" y1="373.1" x2="193.86" y2="356.7" stroke="#111" stroke-width="1.9"/>
<line x1="203.95" y1="358.18" x2="221.95" y2="404.31" stroke="#111" stroke-width="1.9"/>
<line x1="234.38" y1="419.45" x2="242.52" y2="424.67" stroke="#111" stroke-width="1.9"/>
<line x1="259.87" y1="435.78" x2="268.03" y2="441.02" stroke="#111" stroke-width="1.9"/>
<path d="M123.7 459.3L127.55 466.5L119.85 466.5Z" fill="#111"/>
<path d="M149.2 410.3L153.05 417.5L145.35 417.5Z" fill="#111"/>
<path d="M174.7 377.62L178.55 384.82L170.85 384.82Z" fill="#111"/>
<path d="M200.2 344.98L204.05 352.18L196.35 352.18Z" fill="#111"/>
<path d="M225.7 410.3L229.55 417.5L221.85 417.5Z" fill="#111"/>
<path d="M251.2 426.62L255.05 433.82L247.35 433.82Z" fill="#111"/>
<path d="M276.7 442.98L280.55 450.18L272.85 450.18Z" fill="#111"/>
<text x="558.3" y="293.6" font-size="16" text-anchor="middle" font-family="Liberation Sans, sans-serif" font-weight="bold" stroke="#111" stroke-width="0.5" stroke-linejoin="round">tissue damage</text>
<text transform="translate(390.4 388.5) rotate(-90)" font-size="13.8" text-anchor="middle" font-family="Liberation Sans, sans-serif" font-weight="bold" stroke="#111" stroke-width="0.5" stroke-linejoin="round">score</text>
<line x1="511.4" y1="324.1" x2="511.4" y2="479.7" stroke="#9c9c9c" stroke-width="1.35" stroke-dasharray="1.9 3.37"/>
<text x="511.4" y="322.4" font-size="12.4" text-anchor="middle" font-family="Liberation Sans, sans-serif" font-weight="bold" stroke="#111" stroke-width="0.7">+</text>
<line x1="562.4" y1="324.1" x2="562.4" y2="479.7" stroke="#9c9c9c" stroke-width="1.35" stroke-dasharray="1.9 3.37"/>
<text x="562.4" y="322.4" font-size="12.4" text-anchor="middle" font-family="Liberation Sans, sans-serif" font-weight="bold" stroke="#111" stroke-width="0.7">++</text>
<line x1="613.4" y1="324.1" x2="613.4" y2="479.7" stroke="#9c9c9c" stroke-width="1.35" stroke-dasharray="1.9 3.37"/>
<text x="613.4" y="322.4" font-size="12.4" text-anchor="middle" font-family="Liberation Sans, sans-serif" font-weight="bold" stroke="#111" stroke-width="0.7">#</text>
<line x1="434.8" y1="316.05" x2="434.8" y2="465.15" stroke="#111" stroke-width="2.1"/>
<line x1="427.8" y1="464.1" x2="434.8" y2="464.1" stroke="#111" stroke-width="2.1"/>
<text x="425.5" y="468.4" font-size="13" text-anchor="end" font-family="Liberation Sans, sans-serif" font-weight="bold" stroke="#111" stroke-width="0.5" stroke-linejoin="round">0</text>
<line x1="427.8" y1="415.1" x2="434.8" y2="415.1" stroke="#111" stroke-width="2.1"/>
<text x="425.5" y="419.4" font-size="13" text-anchor="end" font-family="Liberation Sans, sans-serif" font-weight="bold" stroke="#111" stroke-width="0.5" stroke-linejoin="round">1</text>
<line x1="427.8" y1="366.1" x2="434.8" y2="366.1" stroke="#111" stroke-width="2.1"/>
<text x="425.5" y="370.4" font-size="13" text-anchor="end" font-family="Liberation Sans, sans-serif" font-weight="bold" stroke="#111" stroke-width="0.5" stroke-linejoin="round">2</text>
<line x1="427.8" y1="317.1" x2="434.8" y2="317.1" stroke="#111" stroke-width="2.1"/>
<text x="425.5" y="321.4" font-size="13" text-anchor="end" font-family="Liberation Sans, sans-serif" font-weight="bold" stroke="#111" stroke-width="0.5" stroke-linejoin="round">3</text>
<line x1="450.85" y1="480.7" x2="682.45" y2="480.7" stroke="#111" stroke-width="2.1"/>
<line x1="451.9" y1="480.7" x2="451.9" y2="487.8" stroke="#111" stroke-width="2.1"/>
<text x="451.9" y="503.3" font-size="13" text-anchor="middle" font-family="Liberation Sans, sans-serif" font-weight="bold" stroke="#111" stroke-width="0.5" stroke-linejoin="round">0</text>
<line x1="502.9" y1="480.7" x2="502.9" y2="487.8" stroke="#111" stroke-width="2.1"/>
<text x="502.9" y="503.3" font-size="13" text-anchor="middle" font-family="Liberation Sans, sans-serif" font-weight="bold" stroke="#111" stroke-width="0.5" stroke-linejoin="round">30</text>
<line x1="553.9" y1="480.7" x2="553.9" y2="487.8" stroke="#111" stroke-width="2.1"/>
<text x="553.9" y="503.3" font-size="13" text-anchor="middle" font-family="Liberation Sans, sans-serif" font-weight="bold" stroke="#111" stroke-width="0.5" stroke-linejoin="round">60</text>
<line x1="604.9" y1="480.7" x2="604.9" y2="487.8" stroke="#111" stroke-width="2.1"/>
<text x="604.9" y="503.3" font-size="13" text-anchor="middle" font-family="Liberation Sans, sans-serif" font-weight="bold" stroke="#111" stroke-width="0.5" stroke-linejoin="round">90</text>
<line x1="655.9" y1="480.7" x2="655.9" y2="487.8" stroke="#111" stroke-width="2.1"/>
<text x="655.9" y="503.3" font-size="13" text-anchor="middle" font-family="Liberation Sans, sans-serif" font-weight="bold" stroke="#111" stroke-width="0.5" stroke-linejoin="round">120</text>
<line x1="477.4" y1="480.7" x2="477.4" y2="485.3" stroke="#111" stroke-width="2.1"/>
<line x1="528.4" y1="480.7" x2="528.4" y2="485.3" stroke="#111" stroke-width="2.1"/>
<line x1="579.4" y1="480.7" x2="579.4" y2="485.3" stroke="#111" stroke-width="2.1"/>
<line x1="630.4" y1="480.7" x2="630.4" y2="485.3" stroke="#111" stroke-width="2.1"/>
<line x1="681.4" y1="480.7" x2="681.4" y2="485.3" stroke="#111" stroke-width="2.1"/>
<line x1="502.9" y1="447.78" x2="502.9" y2="431.42" stroke="#111" stroke-width="1.9"/>
<line x1="500.5" y1="431.42" x2="505.3" y2="431.42" stroke="#111" stroke-width="2.0"/>
<line x1="528.4" y1="447.78" x2="528.4" y2="431.42" stroke="#111" stroke-width="1.9"/>
<line x1="526" y1="431.42" x2="530.8" y2="431.42" stroke="#111" stroke-width="2.0"/>
<line x1="553.9" y1="447.78" x2="553.9" y2="431.42" stroke="#111" stroke-width="1.9"/>
<line x1="551.5" y1="431.42" x2="556.3" y2="431.42" stroke="#111" stroke-width="2.0"/>
<line x1="579.4" y1="431.42" x2="579.4" y2="415.1" stroke="#111" stroke-width="1.9"/>
<line x1="577" y1="415.1" x2="581.8" y2="415.1" stroke="#111" stroke-width="2.0"/>
<line x1="604.9" y1="415.1" x2="604.9" y2="386.68" stroke="#111" stroke-width="1.9"/>
<line x1="602.5" y1="386.68" x2="607.3" y2="386.68" stroke="#111" stroke-width="2.0"/>
<line x1="630.4" y1="415.1" x2="630.4" y2="386.68" stroke="#111" stroke-width="1.9"/>
<line x1="628" y1="386.68" x2="632.8" y2="386.68" stroke="#111" stroke-width="2.0"/>
<line x1="655.9" y1="415.1" x2="655.9" y2="386.68" stroke="#111" stroke-width="1.9"/>
<line x1="653.5" y1="386.68" x2="658.3" y2="386.68" stroke="#111" stroke-width="2.0"/>
<line x1="513.2" y1="447.78" x2="518.1" y2="447.78" stroke="#111" stroke-width="1.9"/>
<line x1="538.7" y1="447.78" x2="543.6" y2="447.78" stroke="#111" stroke-width="1.9"/>
<line x1="562.57" y1="442.22" x2="570.73" y2="436.98" stroke="#111" stroke-width="1.9"/>
<line x1="588.08" y1="425.87" x2="596.22" y2="420.65" stroke="#111" stroke-width="1.9"/>
<line x1="615.2" y1="415.1" x2="620.1" y2="415.1" stroke="#111" stroke-width="1.9"/>
<line x1="640.7" y1="415.1" x2="645.6" y2="415.1" stroke="#111" stroke-width="1.9"/>
<rect x="499.65" y="444.53" width="6.5" height="6.5" fill="#fff" stroke="#111" stroke-width="2.0"/>
<rect x="525.15" y="444.53" width="6.5" height="6.5" fill="#fff" stroke="#111" stroke-width="2.0"/>
<rect x="550.65" y="444.53" width="6.5" height="6.5" fill="#fff" stroke="#111" stroke-width="2.0"/>
<rect x="576.15" y="428.17" width="6.5" height="6.5" fill="#fff" stroke="#111" stroke-width="2.0"/>
<rect x="601.65" y="411.85" width="6.5" height="6.5" fill="#fff" stroke="#111" stroke-width="2.0"/>
<rect x="627.15" y="411.85" width="6.5" height="6.5" fill="#fff" stroke="#111" stroke-width="2.0"/>
<rect x="652.65" y="411.85" width="6.5" height="6.5" fill="#fff" stroke="#111" stroke-width="2.0"/>
<line x1="513.2" y1="464.1" x2="518.1" y2="464.1" stroke="#111" stroke-width="1.9"/>
<line x1="538.7" y1="464.1" x2="543.6" y2="464.1" stroke="#111" stroke-width="1.9"/>
<line x1="564.2" y1="464.1" x2="569.1" y2="464.1" stroke="#111" stroke-width="1.9"/>
<line x1="589.7" y1="464.1" x2="594.6" y2="464.1" stroke="#111" stroke-width="1.9"/>
<line x1="615.2" y1="464.1" x2="620.1" y2="464.1" stroke="#111" stroke-width="1.9"/>
<line x1="640.7" y1="464.1" x2="645.6" y2="464.1" stroke="#111" stroke-width="1.9"/>
<circle cx="502.9" cy="464.1" r="3.4" fill="#fff" stroke="#111" stroke-width="2.0"/>
<circle cx="502.9" cy="464.1" r="1.5" fill="#111"/>
<circle cx="528.4" cy="464.1" r="3.4" fill="#fff" stroke="#111" stroke-width="2.0"/>
<circle cx="528.4" cy="464.1" r="1.5" fill="#111"/>
<circle cx="553.9" cy="464.1" r="3.4" fill="#fff" stroke="#111" stroke-width="2.0"/>
<circle cx="553.9" cy="464.1" r="1.5" fill="#111"/>
<circle cx="579.4" cy="464.1" r="3.4" fill="#fff" stroke="#111" stroke-width="2.0"/>
<circle cx="579.4" cy="464.1" r="1.5" fill="#111"/>
<circle cx="604.9" cy="464.1" r="3.4" fill="#fff" stroke="#111" stroke-width="2.0"/>
<circle cx="604.9" cy="464.1" r="1.5" fill="#111"/>
<circle cx="630.4" cy="464.1" r="3.4" fill="#fff" stroke="#111" stroke-width="2.0"/>
<circle cx="630.4" cy="464.1" r="1.5" fill="#111"/>
<circle cx="655.9" cy="464.1" r="3.4" fill="#fff" stroke="#111" stroke-width="2.0"/>
<circle cx="655.9" cy="464.1" r="1.5" fill="#111"/>
<line x1="579.4" y1="447.78" x2="579.4" y2="434.7" stroke="#111" stroke-width="1.9"/>
<line x1="577" y1="434.7" x2="581.8" y2="434.7" stroke="#111" stroke-width="2.0"/>
<line x1="604.9" y1="447.78" x2="604.9" y2="431.42" stroke="#111" stroke-width="1.9"/>
<line x1="602.5" y1="431.42" x2="607.3" y2="431.42" stroke="#111" stroke-width="2.0"/>
<line x1="630.4" y1="447.78" x2="630.4" y2="431.42" stroke="#111" stroke-width="1.9"/>
<line x1="628" y1="431.42" x2="632.8" y2="431.42" stroke="#111" stroke-width="2.0"/>
<line x1="655.9" y1="447.78" x2="655.9" y2="431.42" stroke="#111" stroke-width="1.9"/>
<line x1="653.5" y1="431.42" x2="658.3" y2="431.42" stroke="#111" stroke-width="2.0"/>
<line x1="513.2" y1="447.78" x2="518.1" y2="447.78" stroke="#111" stroke-width="1.9"/>
<line x1="538.7" y1="447.78" x2="543.6" y2="447.78" stroke="#111" stroke-width="1.9"/>
<line x1="564.2" y1="447.78" x2="569.1" y2="447.78" stroke="#111" stroke-width="1.9"/>
<line x1="589.7" y1="447.78" x2="594.6" y2="447.78" stroke="#111" stroke-width="1.9"/>
<line x1="615.2" y1="447.78" x2="620.1" y2="447.78" stroke="#111" stroke-width="1.9"/>
<line x1="640.7" y1="447.78" x2="645.6" y2="447.78" stroke="#111" stroke-width="1.9"/>
<path d="M502.9 444.18L506.75 451.38L499.05 451.38Z" fill="#111"/>
<path d="M528.4 444.18L532.25 451.38L524.55 451.38Z" fill="#111"/>
<path d="M553.9 444.18L557.75 451.38L550.05 451.38Z" fill="#111"/>
<path d="M579.4 444.18L583.25 451.38L575.55 451.38Z" fill="#111"/>
<path d="M604.9 444.18L608.75 451.38L601.05 451.38Z" fill="#111"/>
<path d="M630.4 444.18L634.25 451.38L626.55 451.38Z" fill="#111"/>
<path d="M655.9 444.18L659.75 451.38L652.05 451.38Z" fill="#111"/>
<text x="180" y="575" font-size="16" text-anchor="middle" font-family="Liberation Sans, sans-serif" font-weight="bold" stroke="#111" stroke-width="0.5" stroke-linejoin="round">doxorubicin in perfusate</text>
<text transform="translate(12.1 677) rotate(-90)" font-size="14.3" text-anchor="middle" font-family="Liberation Sans, sans-serif" font-weight="bold" stroke="#111" stroke-width="0.5" stroke-linejoin="round">ng/ml</text>
<line x1="124.91" y1="606" x2="124.91" y2="762.1" stroke="#9c9c9c" stroke-width="1.35" stroke-dasharray="1.9 3.37"/>
<text x="124.91" y="604.3" font-size="13.2" text-anchor="middle" font-family="Liberation Sans, sans-serif" font-weight="bold" stroke="#111" stroke-width="0.7">+</text>
<line x1="178.39" y1="606" x2="178.39" y2="762.1" stroke="#9c9c9c" stroke-width="1.35" stroke-dasharray="1.9 3.37"/>
<text x="178.39" y="604.3" font-size="13.2" text-anchor="middle" font-family="Liberation Sans, sans-serif" font-weight="bold" stroke="#111" stroke-width="0.7">++</text>
<line x1="231.88" y1="606" x2="231.88" y2="762.1" stroke="#9c9c9c" stroke-width="1.35" stroke-dasharray="1.9 3.37"/>
<text x="231.88" y="604.3" font-size="13.2" text-anchor="middle" font-family="Liberation Sans, sans-serif" font-weight="bold" stroke="#111" stroke-width="0.7">#</text>
<line x1="55.9" y1="597.23" x2="55.9" y2="757.05" stroke="#111" stroke-width="2.1"/>
<line x1="48.9" y1="756" x2="55.9" y2="756" stroke="#111" stroke-width="2.1"/>
<text x="46.6" y="760.3" font-size="13.7" text-anchor="end" font-family="Liberation Sans, sans-serif" font-weight="bold" stroke="#111" stroke-width="0.5" stroke-linejoin="round">0</text>
<line x1="48.9" y1="720.95" x2="55.9" y2="720.95" stroke="#111" stroke-width="2.1"/>
<text x="46.6" y="725.25" font-size="13.7" text-anchor="end" font-family="Liberation Sans, sans-serif" font-weight="bold" stroke="#111" stroke-width="0.5" stroke-linejoin="round">1000</text>
<line x1="48.9" y1="685.9" x2="55.9" y2="685.9" stroke="#111" stroke-width="2.1"/>
<text x="46.6" y="690.2" font-size="13.7" text-anchor="end" font-family="Liberation Sans, sans-serif" font-weight="bold" stroke="#111" stroke-width="0.5" stroke-linejoin="round">2000</text>
<line x1="48.9" y1="650.85" x2="55.9" y2="650.85" stroke="#111" stroke-width="2.1"/>
<text x="46.6" y="655.15" font-size="13.7" text-anchor="end" font-family="Liberation Sans, sans-serif" font-weight="bold" stroke="#111" stroke-width="0.5" stroke-linejoin="round">3000</text>
<line x1="48.9" y1="615.8" x2="55.9" y2="615.8" stroke="#111" stroke-width="2.1"/>
<text x="46.6" y="620.1" font-size="13.7" text-anchor="end" font-family="Liberation Sans, sans-serif" font-weight="bold" stroke="#111" stroke-width="0.5" stroke-linejoin="round">4000</text>
<line x1="51.9" y1="738.48" x2="55.9" y2="738.48" stroke="#111" stroke-width="2.1"/>
<line x1="51.9" y1="703.42" x2="55.9" y2="703.42" stroke="#111" stroke-width="2.1"/>
<line x1="51.9" y1="668.38" x2="55.9" y2="668.38" stroke="#111" stroke-width="2.1"/>
<line x1="51.9" y1="633.33" x2="55.9" y2="633.33" stroke="#111" stroke-width="2.1"/>
<line x1="51.9" y1="598.27" x2="55.9" y2="598.27" stroke="#111" stroke-width="2.1"/>
<line x1="61.45" y1="763.1" x2="304.25" y2="763.1" stroke="#111" stroke-width="2.1"/>
<line x1="62.5" y1="763.1" x2="62.5" y2="770.2" stroke="#111" stroke-width="2.1"/>
<text x="62.5" y="785" font-size="13.7" text-anchor="middle" font-family="Liberation Sans, sans-serif" font-weight="bold" stroke="#111" stroke-width="0.5" stroke-linejoin="round">0</text>
<line x1="115.99" y1="763.1" x2="115.99" y2="770.2" stroke="#111" stroke-width="2.1"/>
<text x="115.99" y="785" font-size="13.7" text-anchor="middle" font-family="Liberation Sans, sans-serif" font-weight="bold" stroke="#111" stroke-width="0.5" stroke-linejoin="round">30</text>
<line x1="169.48" y1="763.1" x2="169.48" y2="770.2" stroke="#111" stroke-width="2.1"/>
<text x="169.48" y="785" font-size="13.7" text-anchor="middle" font-family="Liberation Sans, sans-serif" font-weight="bold" stroke="#111" stroke-width="0.5" stroke-linejoin="round">60</text>
<line x1="222.97" y1="763.1" x2="222.97" y2="770.2" stroke="#111" stroke-width="2.1"/>
<text x="222.97" y="785" font-size="13.7" text-anchor="middle" font-family="Liberation Sans, sans-serif" font-weight="bold" stroke="#111" stroke-width="0.5" stroke-linejoin="round">90</text>
<line x1="276.46" y1="763.1" x2="276.46" y2="770.2" stroke="#111" stroke-width="2.1"/>
<text x="276.46" y="785" font-size="13.7" text-anchor="middle" font-family="Liberation Sans, sans-serif" font-weight="bold" stroke="#111" stroke-width="0.5" stroke-linejoin="round">120</text>
<line x1="89.25" y1="763.1" x2="89.25" y2="767.7" stroke="#111" stroke-width="2.1"/>
<line x1="142.74" y1="763.1" x2="142.74" y2="767.7" stroke="#111" stroke-width="2.1"/>
<line x1="196.22" y1="763.1" x2="196.22" y2="767.7" stroke="#111" stroke-width="2.1"/>
<line x1="249.72" y1="763.1" x2="249.72" y2="767.7" stroke="#111" stroke-width="2.1"/>
<line x1="303.2" y1="763.1" x2="303.2" y2="767.7" stroke="#111" stroke-width="2.1"/>
<line x1="142.74" y1="709.25" x2="142.74" y2="686" stroke="#111" stroke-width="1.9"/>
<line x1="139.64" y1="686" x2="145.84" y2="686" stroke="#111" stroke-width="2.0"/>
<line x1="99.54" y1="755.81" x2="105.69" y2="755.69" stroke="#111" stroke-width="1.9"/>
<line x1="121.15" y1="746.58" x2="137.58" y2="718.17" stroke="#111" stroke-width="1.9"/>
<line x1="150.8" y1="715.66" x2="161.42" y2="724.09" stroke="#111" stroke-width="1.9"/>
<line x1="174.15" y1="721.32" x2="191.56" y2="687.08" stroke="#111" stroke-width="1.9"/>
<line x1="200.89" y1="687.08" x2="218.3" y2="721.32" stroke="#111" stroke-width="1.9"/>
<line x1="232.46" y1="734.51" x2="240.23" y2="737.79" stroke="#111" stroke-width="1.9"/>
<line x1="260.01" y1="741.49" x2="266.16" y2="741.31" stroke="#111" stroke-width="1.9"/>
<rect x="86" y="752.75" width="6.5" height="6.5" fill="#fff" stroke="#111" stroke-width="2.0"/>
<rect x="112.74" y="752.25" width="6.5" height="6.5" fill="#fff" stroke="#111" stroke-width="2.0"/>
<rect x="139.49" y="706" width="6.5" height="6.5" fill="#fff" stroke="#111" stroke-width="2.0"/>
<rect x="166.23" y="727.25" width="6.5" height="6.5" fill="#fff" stroke="#111" stroke-width="2.0"/>
<rect x="192.97" y="674.65" width="6.5" height="6.5" fill="#fff" stroke="#111" stroke-width="2.0"/>
<rect x="219.72" y="727.25" width="6.5" height="6.5" fill="#fff" stroke="#111" stroke-width="2.0"/>
<rect x="246.47" y="738.55" width="6.5" height="6.5" fill="#fff" stroke="#111" stroke-width="2.0"/>
<rect x="273.21" y="737.75" width="6.5" height="6.5" fill="#fff" stroke="#111" stroke-width="2.0"/>
<line x1="142.74" y1="693" x2="142.74" y2="666.75" stroke="#111" stroke-width="1.9"/>
<line x1="139.64" y1="666.75" x2="145.84" y2="666.75" stroke="#111" stroke-width="2.0"/>
<line x1="169.48" y1="732.6" x2="169.48" y2="724.7" stroke="#111" stroke-width="1.9"/>
<line x1="166.38" y1="724.7" x2="172.58" y2="724.7" stroke="#111" stroke-width="2.0"/>
<line x1="196.22" y1="660.3" x2="196.22" y2="611" stroke="#111" stroke-width="1.9"/>
<line x1="193.12" y1="611" x2="199.32" y2="611" stroke="#111" stroke-width="2.0"/>
<line x1="222.97" y1="701.6" x2="222.97" y2="675.3" stroke="#111" stroke-width="1.9"/>
<line x1="219.87" y1="675.3" x2="226.07" y2="675.3" stroke="#111" stroke-width="2.0"/>
<line x1="99.54" y1="755.62" x2="105.7" y2="755.38" stroke="#111" stroke-width="1.9"/>
<line x1="120.07" y1="745.54" x2="138.66" y2="702.46" stroke="#111" stroke-width="1.9"/>
<line x1="148.5" y1="701.54" x2="163.72" y2="724.06" stroke="#111" stroke-width="1.9"/>
<line x1="173.05" y1="722.94" x2="192.65" y2="669.96" stroke="#111" stroke-width="1.9"/>
<line x1="201.82" y1="668.95" x2="217.37" y2="692.95" stroke="#111" stroke-width="1.9"/>
<line x1="229.13" y1="709.85" x2="243.55" y2="729.15" stroke="#111" stroke-width="1.9"/>
<line x1="259.67" y1="740.04" x2="266.5" y2="741.86" stroke="#111" stroke-width="1.9"/>
<circle cx="89.25" cy="756" r="3.4" fill="#fff" stroke="#111" stroke-width="2.0"/>
<circle cx="89.25" cy="756" r="1.5" fill="#111"/>
<circle cx="115.99" cy="755" r="3.4" fill="#fff" stroke="#111" stroke-width="2.0"/>
<circle cx="115.99" cy="755" r="1.5" fill="#111"/>
<circle cx="142.74" cy="693" r="3.4" fill="#fff" stroke="#111" stroke-width="2.0"/>
<circle cx="142.74" cy="693" r="1.5" fill="#111"/>
<circle cx="169.48" cy="732.6" r="3.4" fill="#fff" stroke="#111" stroke-width="2.0"/>
<circle cx="169.48" cy="732.6" r="1.5" fill="#111"/>
<circle cx="196.22" cy="660.3" r="3.4" fill="#fff" stroke="#111" stroke-width="2.0"/>
<circle cx="196.22" cy="660.3" r="1.5" fill="#111"/>
<circle cx="222.97" cy="701.6" r="3.4" fill="#fff" stroke="#111" stroke-width="2.0"/>
<circle cx="222.97" cy="701.6" r="1.5" fill="#111"/>
<circle cx="249.72" cy="737.4" r="3.4" fill="#fff" stroke="#111" stroke-width="2.0"/>
<circle cx="249.72" cy="737.4" r="1.5" fill="#111"/>
<circle cx="276.46" cy="744.5" r="3.4" fill="#fff" stroke="#111" stroke-width="2.0"/>
<circle cx="276.46" cy="744.5" r="1.5" fill="#111"/>
<text x="559.2" y="575" font-size="16" text-anchor="middle" font-family="Liberation Sans, sans-serif" font-weight="bold" stroke="#111" stroke-width="0.5" stroke-linejoin="round">doxorubicin in tissue</text>
<text transform="translate(391.1 677) rotate(-90)" font-size="14.3" text-anchor="middle" font-family="Liberation Sans, sans-serif" font-weight="bold" stroke="#111" stroke-width="0.5" stroke-linejoin="round">ng/g</text>
<line x1="503.53" y1="606" x2="503.53" y2="762.1" stroke="#9c9c9c" stroke-width="1.35" stroke-dasharray="1.9 3.37"/>
<text x="503.53" y="604.3" font-size="13.2" text-anchor="middle" font-family="Liberation Sans, sans-serif" font-weight="bold" stroke="#111" stroke-width="0.7">+</text>
<line x1="556.87" y1="606" x2="556.87" y2="762.1" stroke="#9c9c9c" stroke-width="1.35" stroke-dasharray="1.9 3.37"/>
<text x="556.87" y="604.3" font-size="13.2" text-anchor="middle" font-family="Liberation Sans, sans-serif" font-weight="bold" stroke="#111" stroke-width="0.7">++</text>
<line x1="610.21" y1="606" x2="610.21" y2="762.1" stroke="#9c9c9c" stroke-width="1.35" stroke-dasharray="1.9 3.37"/>
<text x="610.21" y="604.3" font-size="13.2" text-anchor="middle" font-family="Liberation Sans, sans-serif" font-weight="bold" stroke="#111" stroke-width="0.7">#</text>
<line x1="434.7" y1="597.62" x2="434.7" y2="757.45" stroke="#111" stroke-width="2.1"/>
<line x1="427.7" y1="756.4" x2="434.7" y2="756.4" stroke="#111" stroke-width="2.1"/>
<text x="425.4" y="760.7" font-size="13.7" text-anchor="end" font-family="Liberation Sans, sans-serif" font-weight="bold" stroke="#111" stroke-width="0.5" stroke-linejoin="round">0</text>
<line x1="427.7" y1="721.35" x2="434.7" y2="721.35" stroke="#111" stroke-width="2.1"/>
<text x="425.4" y="725.65" font-size="13.7" text-anchor="end" font-family="Liberation Sans, sans-serif" font-weight="bold" stroke="#111" stroke-width="0.5" stroke-linejoin="round">500</text>
<line x1="427.7" y1="686.3" x2="434.7" y2="686.3" stroke="#111" stroke-width="2.1"/>
<text x="425.4" y="690.6" font-size="13.7" text-anchor="end" font-family="Liberation Sans, sans-serif" font-weight="bold" stroke="#111" stroke-width="0.5" stroke-linejoin="round">1000</text>
<line x1="427.7" y1="651.25" x2="434.7" y2="651.25" stroke="#111" stroke-width="2.1"/>
<text x="425.4" y="655.55" font-size="13.7" text-anchor="end" font-family="Liberation Sans, sans-serif" font-weight="bold" stroke="#111" stroke-width="0.5" stroke-linejoin="round">1500</text>
<line x1="427.7" y1="616.2" x2="434.7" y2="616.2" stroke="#111" stroke-width="2.1"/>
<text x="425.4" y="620.5" font-size="13.7" text-anchor="end" font-family="Liberation Sans, sans-serif" font-weight="bold" stroke="#111" stroke-width="0.5" stroke-linejoin="round">2000</text>
<line x1="430.7" y1="738.88" x2="434.7" y2="738.88" stroke="#111" stroke-width="2.1"/>
<line x1="430.7" y1="703.82" x2="434.7" y2="703.82" stroke="#111" stroke-width="2.1"/>
<line x1="430.7" y1="668.77" x2="434.7" y2="668.77" stroke="#111" stroke-width="2.1"/>
<line x1="430.7" y1="633.73" x2="434.7" y2="633.73" stroke="#111" stroke-width="2.1"/>
<line x1="430.7" y1="598.67" x2="434.7" y2="598.67" stroke="#111" stroke-width="2.1"/>
<line x1="440.25" y1="763.1" x2="682.38" y2="763.1" stroke="#111" stroke-width="2.1"/>
<line x1="441.3" y1="763.1" x2="441.3" y2="770.2" stroke="#111" stroke-width="2.1"/>
<text x="441.3" y="785" font-size="13.7" text-anchor="middle" font-family="Liberation Sans, sans-serif" font-weight="bold" stroke="#111" stroke-width="0.5" stroke-linejoin="round">0</text>
<line x1="494.64" y1="763.1" x2="494.64" y2="770.2" stroke="#111" stroke-width="2.1"/>
<text x="494.64" y="785" font-size="13.7" text-anchor="middle" font-family="Liberation Sans, sans-serif" font-weight="bold" stroke="#111" stroke-width="0.5" stroke-linejoin="round">30</text>
<line x1="547.98" y1="763.1" x2="547.98" y2="770.2" stroke="#111" stroke-width="2.1"/>
<text x="547.98" y="785" font-size="13.7" text-anchor="middle" font-family="Liberation Sans, sans-serif" font-weight="bold" stroke="#111" stroke-width="0.5" stroke-linejoin="round">60</text>
<line x1="601.32" y1="763.1" x2="601.32" y2="770.2" stroke="#111" stroke-width="2.1"/>
<text x="601.32" y="785" font-size="13.7" text-anchor="middle" font-family="Liberation Sans, sans-serif" font-weight="bold" stroke="#111" stroke-width="0.5" stroke-linejoin="round">90</text>
<line x1="654.66" y1="763.1" x2="654.66" y2="770.2" stroke="#111" stroke-width="2.1"/>
<text x="654.66" y="785" font-size="13.7" text-anchor="middle" font-family="Liberation Sans, sans-serif" font-weight="bold" stroke="#111" stroke-width="0.5" stroke-linejoin="round">120</text>
<line x1="467.97" y1="763.1" x2="467.97" y2="767.7" stroke="#111" stroke-width="2.1"/>
<line x1="521.31" y1="763.1" x2="521.31" y2="767.7" stroke="#111" stroke-width="2.1"/>
<line x1="574.65" y1="763.1" x2="574.65" y2="767.7" stroke="#111" stroke-width="2.1"/>
<line x1="627.99" y1="763.1" x2="627.99" y2="767.7" stroke="#111" stroke-width="2.1"/>
<line x1="681.33" y1="763.1" x2="681.33" y2="767.7" stroke="#111" stroke-width="2.1"/>
<line x1="547.98" y1="738.7" x2="547.98" y2="733" stroke="#111" stroke-width="1.9"/>
<line x1="544.88" y1="733" x2="551.08" y2="733" stroke="#111" stroke-width="2.0"/>
<line x1="574.65" y1="695" x2="574.65" y2="687" stroke="#111" stroke-width="1.9"/>
<line x1="571.55" y1="687" x2="577.75" y2="687" stroke="#111" stroke-width="2.0"/>
<line x1="601.32" y1="703.7" x2="601.32" y2="691.8" stroke="#111" stroke-width="1.9"/>
<line x1="598.22" y1="691.8" x2="604.42" y2="691.8" stroke="#111" stroke-width="2.0"/>
<line x1="627.99" y1="669" x2="627.99" y2="636" stroke="#111" stroke-width="1.9"/>
<line x1="624.89" y1="636" x2="631.09" y2="636" stroke="#111" stroke-width="2.0"/>
<line x1="654.66" y1="724.5" x2="654.66" y2="710" stroke="#111" stroke-width="1.9"/>
<line x1="651.56" y1="710" x2="657.76" y2="710" stroke="#111" stroke-width="2.0"/>
<line x1="504.51" y1="753.04" x2="511.44" y2="750.96" stroke="#111" stroke-width="1.9"/>
<line x1="531.04" y1="744.61" x2="538.25" y2="742.09" stroke="#111" stroke-width="1.9"/>
<line x1="553.35" y1="729.91" x2="569.28" y2="703.79" stroke="#111" stroke-width="1.9"/>
<line x1="584.44" y1="698.19" x2="591.53" y2="700.51" stroke="#111" stroke-width="1.9"/>
<line x1="607.6" y1="695.53" x2="621.71" y2="677.17" stroke="#111" stroke-width="1.9"/>
<line x1="632.45" y1="678.28" x2="650.2" y2="715.22" stroke="#111" stroke-width="1.9"/>
<rect x="491.39" y="752.75" width="6.5" height="6.5" fill="#fff" stroke="#111" stroke-width="2.0"/>
<rect x="518.06" y="744.75" width="6.5" height="6.5" fill="#fff" stroke="#111" stroke-width="2.0"/>
<rect x="544.73" y="735.45" width="6.5" height="6.5" fill="#fff" stroke="#111" stroke-width="2.0"/>
<rect x="571.4" y="691.75" width="6.5" height="6.5" fill="#fff" stroke="#111" stroke-width="2.0"/>
<rect x="598.07" y="700.45" width="6.5" height="6.5" fill="#fff" stroke="#111" stroke-width="2.0"/>
<rect x="624.74" y="665.75" width="6.5" height="6.5" fill="#fff" stroke="#111" stroke-width="2.0"/>
<rect x="651.41" y="721.25" width="6.5" height="6.5" fill="#fff" stroke="#111" stroke-width="2.0"/>
<line x1="521.31" y1="744" x2="521.31" y2="739" stroke="#111" stroke-width="1.9"/>
<line x1="518.21" y1="739" x2="524.41" y2="739" stroke="#111" stroke-width="2.0"/>
<line x1="601.32" y1="737" x2="601.32" y2="724.7" stroke="#111" stroke-width="1.9"/>
<line x1="598.22" y1="724.7" x2="604.42" y2="724.7" stroke="#111" stroke-width="2.0"/>
<line x1="627.99" y1="730.5" x2="627.99" y2="717.6" stroke="#111" stroke-width="1.9"/>
<line x1="624.89" y1="717.6" x2="631.09" y2="717.6" stroke="#111" stroke-width="2.0"/>
<line x1="654.66" y1="708.2" x2="654.66" y2="671.6" stroke="#111" stroke-width="1.9"/>
<line x1="651.56" y1="671.6" x2="657.76" y2="671.6" stroke="#111" stroke-width="2.0"/>
<line x1="504.03" y1="751.77" x2="511.92" y2="748.23" stroke="#111" stroke-width="1.9"/>
<line x1="531.55" y1="745.15" x2="537.74" y2="745.85" stroke="#111" stroke-width="1.9"/>
<line x1="554.98" y1="739.44" x2="567.65" y2="725.76" stroke="#111" stroke-width="1.9"/>
<line x1="583.07" y1="724.13" x2="592.9" y2="731.07" stroke="#111" stroke-width="1.9"/>
<line x1="611.33" y1="734.56" x2="617.98" y2="732.94" stroke="#111" stroke-width="1.9"/>
<line x1="635.89" y1="723.89" x2="646.76" y2="714.81" stroke="#111" stroke-width="1.9"/>
<circle cx="494.64" cy="756" r="3.4" fill="#fff" stroke="#111" stroke-width="2.0"/>
<circle cx="494.64" cy="756" r="1.5" fill="#111"/>
<circle cx="521.31" cy="744" r="3.4" fill="#fff" stroke="#111" stroke-width="2.0"/>
<circle cx="521.31" cy="744" r="1.5" fill="#111"/>
<circle cx="547.98" cy="747" r="3.4" fill="#fff" stroke="#111" stroke-width="2.0"/>
<circle cx="547.98" cy="747" r="1.5" fill="#111"/>
<circle cx="574.65" cy="718.2" r="3.4" fill="#fff" stroke="#111" stroke-width="2.0"/>
<circle cx="574.65" cy="718.2" r="1.5" fill="#111"/>
<circle cx="601.32" cy="737" r="3.4" fill="#fff" stroke="#111" stroke-width="2.0"/>
<circle cx="601.32" cy="737" r="1.5" fill="#111"/>
<circle cx="627.99" cy="730.5" r="3.4" fill="#fff" stroke="#111" stroke-width="2.0"/>
<circle cx="627.99" cy="730.5" r="1.5" fill="#111"/>
<circle cx="654.66" cy="708.2" r="3.4" fill="#fff" stroke="#111" stroke-width="2.0"/>
<circle cx="654.66" cy="708.2" r="1.5" fill="#111"/>
</g></svg>
</body></html>
